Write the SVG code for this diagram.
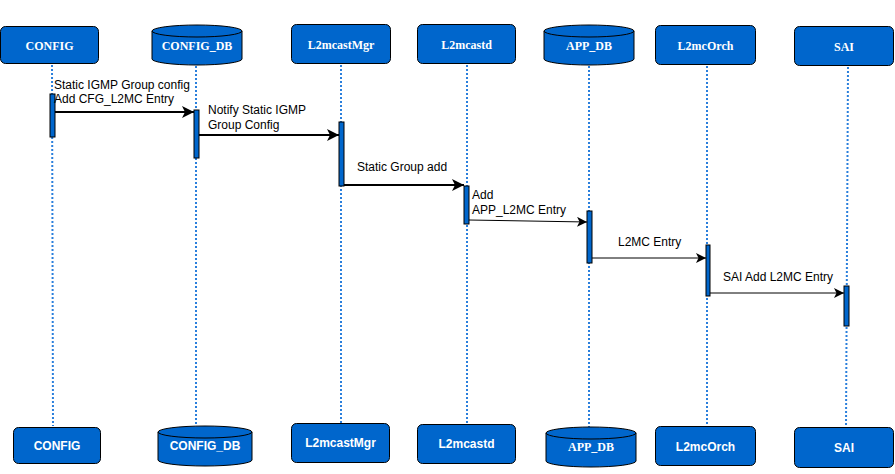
<svg xmlns="http://www.w3.org/2000/svg" width="895" height="474" viewBox="0 0 895 474">
<style>
.box{fill:#0066CC;stroke:#000;stroke-width:1}
.bar{fill:#0066CC;stroke:#000;stroke-width:1}
.life{stroke:#2a7fdc;stroke-width:2;stroke-dasharray:2 2;fill:none}
.ts{font-family:"Liberation Serif","Times New Roman",serif;font-weight:bold;font-size:12px;fill:#fff;text-anchor:middle}
.tb{font-family:"Liberation Sans",Arial,sans-serif;font-weight:bold;font-size:12px;fill:#fff;text-anchor:middle}
.lbl{font-family:"Liberation Sans",Arial,sans-serif;font-size:12px;fill:#000}
.m2{stroke:#000;stroke-width:2;fill:none}
.m1{stroke:#000;stroke-width:1;fill:none}
</style>
<defs>
<marker id="ah2" markerUnits="userSpaceOnUse" markerWidth="14" markerHeight="12" refX="12" refY="6" orient="auto">
<path d="M0,0 L12,6 L0,12 L3,6 Z" fill="#000"/>
</marker>
<marker id="ah1" markerUnits="userSpaceOnUse" markerWidth="12" markerHeight="10" refX="10" refY="5" orient="auto">
<path d="M0,0 L10,5 L0,10 L2.5,5 Z" fill="#000"/>
</marker>
</defs>
<rect width="895" height="474" fill="#fff"/>

<g id="lifelines">
<line class="life" x1="52" y1="65" x2="53" y2="426"/>
<line class="life" x1="196" y1="66" x2="196" y2="426"/>
<line class="life" x1="341" y1="65" x2="341" y2="423"/>
<line class="life" x1="467" y1="65" x2="467" y2="424"/>
<line class="life" x1="589" y1="66" x2="589" y2="427"/>
<line class="life" x1="707" y1="66" x2="707" y2="426"/>
<line class="life" x1="848" y1="67" x2="846" y2="427"/>
</g>

<g id="node-config-top"><rect class="box" x="0.5" y="26.5" width="98" height="37" rx="5"/><text class="ts" x="49.5" y="50">CONFIG</text></g>
<g id="node-configdb-top"><path class="box" d="M152,31 L152,59 A45,6 0 0 0 242,59 L242,31 A45,6 0 0 0 152,31 Z"/><path class="m1" d="M152,31 A45,6 0 0 0 242,31"/><text class="ts" x="197" y="50">CONFIG_DB</text></g>
<g id="node-l2mcastmgr-top"><rect class="box" x="291.5" y="24.5" width="99" height="39" rx="5"/><text class="ts" x="341" y="49">L2mcastMgr</text></g>
<g id="node-l2mcastd-top"><rect class="box" x="417.5" y="24.5" width="98" height="39" rx="5"/><text class="ts" x="466.5" y="49">L2mcastd</text></g>
<g id="node-appdb-top"><path class="box" d="M544,31 L544,59 A45,6 0 0 0 634,59 L634,31 A45,6 0 0 0 544,31 Z"/><path class="m1" d="M544,31 A45,6 0 0 0 634,31"/><text class="ts" x="589" y="50">APP_DB</text></g>
<g id="node-l2mcorch-top"><rect class="box" x="655.5" y="25.5" width="100" height="39" rx="5"/><text class="ts" x="705.5" y="50">L2mcOrch</text></g>
<g id="node-sai-top"><rect class="box" x="794.5" y="26.5" width="99" height="39" rx="5"/><text class="ts" x="844" y="51">SAI</text></g>

<g id="node-config-bottom"><rect class="box" x="13.5" y="427.5" width="87" height="36" rx="5"/><text class="tb" x="57" y="450">CONFIG</text></g>
<g id="node-configdb-bottom"><path class="box" d="M158,432 L158,460 A47,6 0 0 0 252,460 L252,432 A47,6 0 0 0 158,432 Z"/><path class="m1" d="M158,432 A47,6 0 0 0 252,432"/><text class="tb" x="205" y="450">CONFIG_DB</text></g>
<g id="node-l2mcastmgr-bottom"><rect class="box" x="291.5" y="423.5" width="98" height="39" rx="5"/><text class="tb" x="340.5" y="447">L2mcastMgr</text></g>
<g id="node-l2mcastd-bottom"><rect class="box" x="417.5" y="424.5" width="98" height="39" rx="5"/><text class="tb" x="466.5" y="448">L2mcastd</text></g>
<g id="node-appdb-bottom"><path class="box" d="M546,433 L546,461 A45,6 0 0 0 636,461 L636,433 A45,6 0 0 0 546,433 Z"/><path class="m1" d="M546,433 A45,6 0 0 0 636,433"/><text class="ts" x="591" y="451">APP_DB</text></g>
<g id="node-l2mcorch-bottom"><rect class="box" x="655.5" y="426.5" width="100" height="39" rx="5"/><text class="tb" x="705.5" y="451">L2mcOrch</text></g>
<g id="node-sai-bottom"><rect class="box" x="794.5" y="427.5" width="99" height="40" rx="5"/><text class="tb" x="844" y="452">SAI</text></g>

<g id="activations">
<rect class="bar" x="50" y="94" width="5" height="43"/>
<rect class="bar" x="194" y="110" width="5" height="48"/>
<rect class="bar" x="339" y="122" width="5" height="64"/>
<rect class="bar" x="464" y="186" width="5" height="38"/>
<rect class="bar" x="587" y="211" width="5" height="52"/>
<rect class="bar" x="706" y="245" width="4" height="51"/>
<rect class="bar" x="844" y="286" width="5" height="40"/>
</g>

<g id="connectors">
<line class="m2" x1="55" y1="112" x2="194" y2="112" marker-end="url(#ah2)"/>
<line class="m2" x1="199" y1="135" x2="339" y2="135" marker-end="url(#ah2)"/>
<line class="m2" x1="344" y1="185" x2="464" y2="185" marker-end="url(#ah2)"/>
<line class="m1" x1="469" y1="220" x2="587" y2="222" marker-end="url(#ah1)"/>
<line class="m1" x1="592" y1="258" x2="706" y2="258" marker-end="url(#ah1)"/>
<line class="m1" x1="710" y1="293" x2="844" y2="293" marker-end="url(#ah1)"/>
</g>

<g id="labels">
<text class="lbl" x="54" y="89">Static IGMP Group config</text>
<text class="lbl" x="54" y="103">Add CFG_L2MC Entry</text>
<text class="lbl" x="208" y="114">Notify Static IGMP</text>
<text class="lbl" x="208" y="129">Group Config</text>
<text class="lbl" x="357" y="171">Static Group add</text>
<text class="lbl" x="472" y="199">Add</text>
<text class="lbl" x="472" y="214">APP_L2MC Entry</text>
<text class="lbl" x="618" y="246">L2MC Entry</text>
<text class="lbl" x="723" y="281">SAI Add L2MC Entry</text>
</g>
</svg>
